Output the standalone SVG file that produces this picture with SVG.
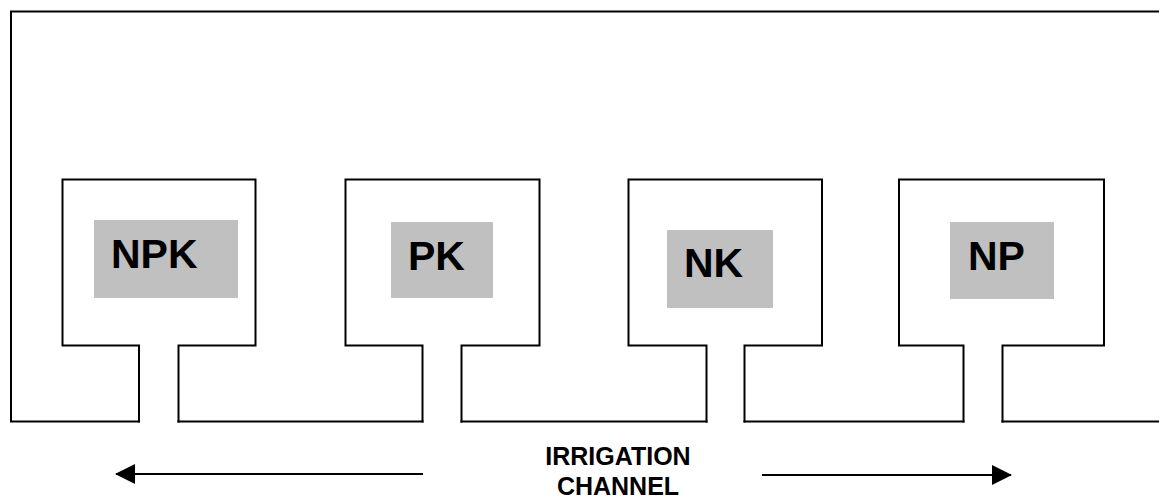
<svg xmlns="http://www.w3.org/2000/svg" width="1159" height="497" viewBox="0 0 1159 497">
  <style>
    .wall { fill: none; stroke: #000; stroke-width: 2; stroke-linecap: square; stroke-linejoin: miter; }
    .pad { fill: #c0c0c0; stroke: none; }
    .lbl { font-family: "Liberation Sans", Arial, sans-serif; font-weight: bold; font-size: 41px; fill: #000; }
    .cap { font-family: "Liberation Sans", Arial, sans-serif; font-weight: bold; font-size: 25px; fill: #000; text-anchor: middle; }
    .flow { fill: none; stroke: #000; stroke-width: 2; }
  </style>
  <defs>
    <marker id="ah" viewBox="0 0 20 20" refX="19" refY="10" markerWidth="20" markerHeight="20" markerUnits="userSpaceOnUse" orient="auto">
      <path d="M0 0 L20 10 L0 20 Z" fill="#000"/>
    </marker>
  </defs>
  <rect width="1159" height="497" fill="#fff"/>

  <g id="field">
    <path class="wall" d="M1160 11.5 H11 V421.5 H139"/>
    <path class="wall" d="M178.5 421.5 H422.5"/>
    <path class="wall" d="M461.5 421.5 H706.5"/>
    <path class="wall" d="M744.5 421.5 H963.5"/>
    <path class="wall" d="M1002.5 421.5 H1160"/>
  </g>

  <g id="plot-npk">
    <path class="wall" d="M139 421.5 V345.5 H62.5 V179.5 H255.5 V345.5 H178.5 V421.5"/>
    <rect class="pad" x="94" y="220" width="144" height="78"/>
    <text class="lbl" x="111" y="268">NPK</text>
  </g>

  <g id="plot-pk">
    <path class="wall" d="M422.5 421.5 V345.5 H345.5 V179.5 H539.5 V345.5 H461.5 V421.5"/>
    <rect class="pad" x="391" y="222" width="102" height="76"/>
    <text class="lbl" x="408" y="270">PK</text>
  </g>

  <g id="plot-nk">
    <path class="wall" d="M706.5 421.5 V345.5 H628.5 V179.5 H822 V345.5 H744.5 V421.5"/>
    <rect class="pad" x="667" y="230" width="106" height="78"/>
    <text class="lbl" x="684" y="277">NK</text>
  </g>

  <g id="plot-np">
    <path class="wall" d="M963.5 421.5 V345.5 H899 V179.5 H1104 V345.5 H1002.5 V421.5"/>
    <rect class="pad" x="950" y="222" width="104" height="77"/>
    <text class="lbl" x="968" y="270">NP</text>
  </g>

  <g id="channel-label">
    <text class="cap" x="618" y="465">IRRIGATION</text>
    <text class="cap" x="618" y="495">CHANNEL</text>
  </g>

  <g id="connectors">
    <line class="flow" x1="423" y1="474" x2="116" y2="474" marker-end="url(#ah)"/>
    <line class="flow" x1="762" y1="475" x2="1011" y2="475" marker-end="url(#ah)"/>
  </g>
</svg>
